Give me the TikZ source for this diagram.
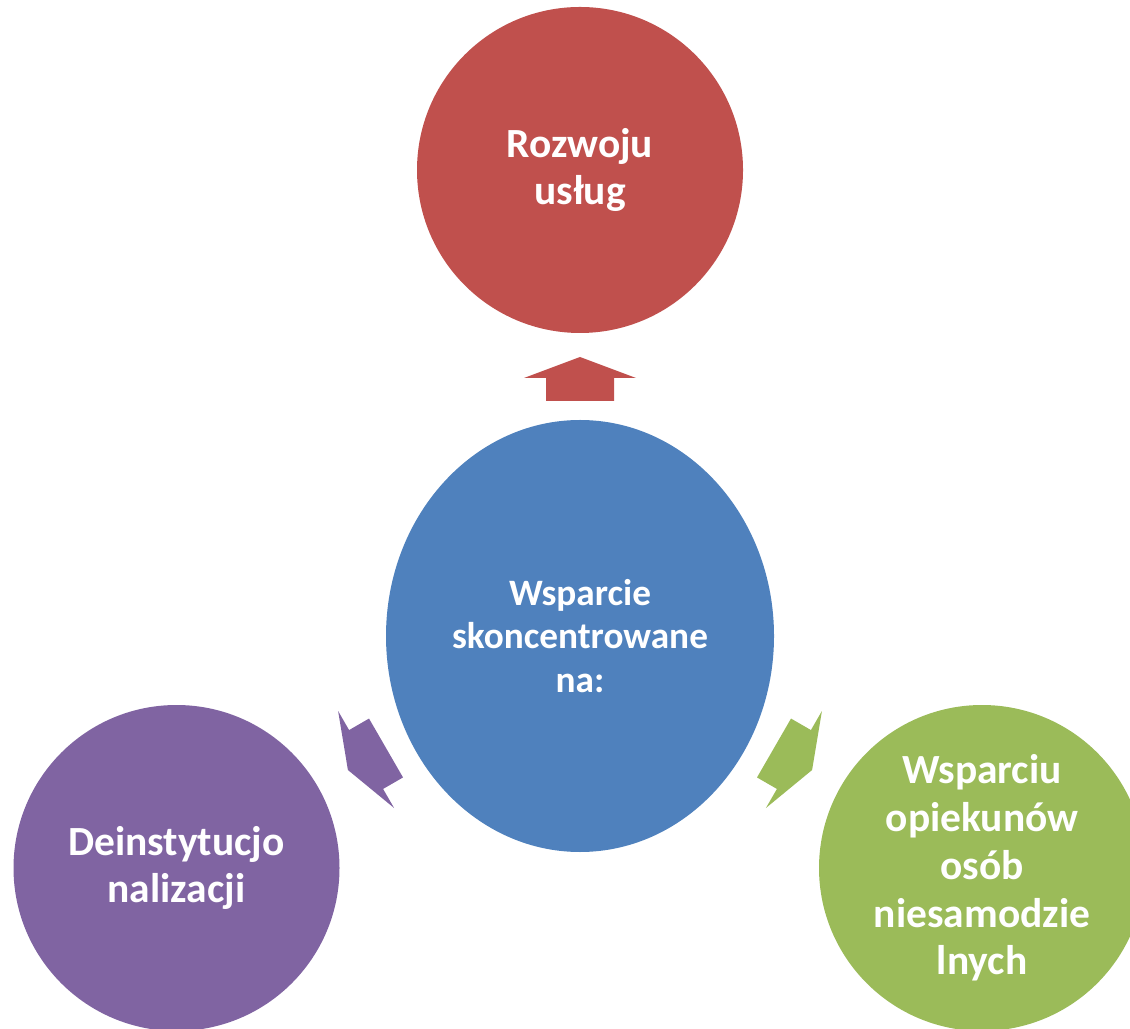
\documentclass[tikz,border=0pt]{standalone}
\usepackage{fontspec}
\setmainfont{Carlito}
\usetikzlibrary{calc,shapes}
\definecolor{czerwony}{HTML}{C0504D}
\definecolor{niebieski}{HTML}{4F81BD}
\definecolor{fioletowy}{HTML}{8064A2}
\definecolor{zielony}{HTML}{9BBB59}
\tikzset{
  kolo/.style={circle,minimum size=3.26cm,inner sep=0pt,text=white,align=center,
    font=\fontsize{11.8}{13.6}\selectfont\bfseries},
  strzalka/.style={fill=#1,draw=none}
}
\begin{document}
\begin{tikzpicture}
	\clip (0,0) rectangle (11.3,10.28);
	\useasboundingbox (0,0) rectangle (11.3,10.28);
	% Koła
	\node [ellipse,fill=niebieski,minimum width=3.88cm,minimum height=4.32cm,inner sep=0pt,
	  text=white,align=center,font=\fontsize{10.6}{12.3}\selectfont\bfseries] (srodek) at (5.80,3.92)
	  {Wsparcie\\skoncentrowane\\na:};
	\node [kolo,fill=czerwony] (uslugi) at (5.80,8.58) {Rozwoju\\usług};
	\node [kolo,fill=fioletowy] (deinst) at (1.765,1.60) {Deinstytucjo\\nalizacji};
	\node [kolo,fill=zielony] (opiekun) at (9.82,1.60) {Wsparciu\\opiekunów\\osób\\niesamodzie\\lnych};
	% Strzałki
	\begin{scope}[shift={(srodek.center)},rotate=0,shift={(0,2.35)}]
		\fill [strzalka=czerwony] (-0.34,0) -- (-0.34,0.23) -- (-0.56,0.23) -- (0,0.44) -- (0.56,0.23) -- (0.34,0.23) -- (0.34,0) -- cycle;
	\end{scope}
	\begin{scope}[shift={(srodek.center)},rotate=120,shift={(0,2.24)}]
		\fill [strzalka=fioletowy] (-0.34,0) -- (-0.34,0.23) -- (-0.56,0.23) -- (0,0.44) -- (0.56,0.23) -- (0.34,0.23) -- (0.34,0) -- cycle;
	\end{scope}
	\begin{scope}[shift={(srodek.center)},rotate=-120,shift={(0,2.24)}]
		\fill [strzalka=zielony] (-0.34,0) -- (-0.34,0.23) -- (-0.56,0.23) -- (0,0.44) -- (0.56,0.23) -- (0.34,0.23) -- (0.34,0) -- cycle;
	\end{scope}
\end{tikzpicture}
\end{document}
